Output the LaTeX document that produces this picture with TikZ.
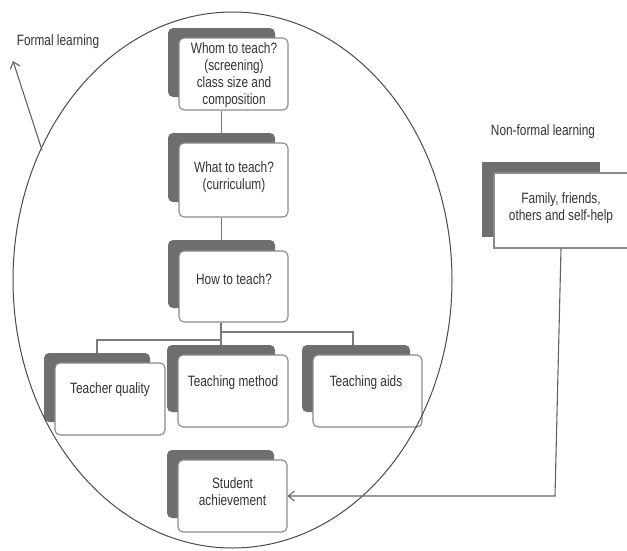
\documentclass[tikz,border=0pt]{standalone}
\usepackage{fontspec}
\setmainfont{Liberation Sans}[FakeStretch=0.79]
\usetikzlibrary{arrows.meta,shapes.geometric}
\definecolor{shade}{HTML}{6E6E6E}
\definecolor{edge}{HTML}{8A8A8A}
\definecolor{conn}{HTML}{7A7A7A}
\definecolor{ink}{HTML}{333333}
\definecolor{ring}{HTML}{4A4A4A}
\begin{document}
\begin{tikzpicture}[x=1pt,y=-1pt,
  sbox/.style={fill=shade, draw=none, rounded corners=5pt, inner sep=0pt, minimum width=107pt, minimum height=69pt},
  wbox/.style={fill=white, draw=edge, line width=1.1pt, rounded corners=5pt, inner sep=0pt, minimum width=109pt, minimum height=72pt},
  txt/.style={text=ink, font=\fontsize{15}{17}\selectfont, align=center, inner sep=0pt},
  link/.style={draw=conn, line width=1.1pt}]
\useasboundingbox (0,0) rectangle (627,550);

% Whom to teach
\node[sbox] (b1s) at (221.5,62.5) {};
\node[wbox] (b1) at (233.5,74) {};
\node[txt] (b1t) at (234,75) {Whom to teach?\\(screening)\\class size and\\composition};
% What to teach
\node[sbox] (b2s) at (221.5,167.5) {};
\node[wbox, minimum height=74pt] (b2) at (233.5,180) {};
\node[txt] (b2t) at (234,177) {What to teach?\\(curriculum)};
% How to teach
\node[sbox, minimum height=68pt] (b3s) at (221.5,274) {};
\node[wbox, minimum height=71pt] (b3) at (233.5,286.5) {};
\node[txt] (b3t) at (234,279) {How to teach?};
% Teacher quality
\node[sbox, minimum width=106pt] (tqs) at (97,387.5) {};
\node[wbox, minimum width=110pt] (tq) at (110,399) {};
\node[txt] (tqt) at (110,390) {Teacher quality};
% Teaching method
\node[sbox, minimum width=108pt, minimum height=67pt] (tms) at (221,378.5) {};
\node[wbox, minimum width=110pt] (tm) at (233,391) {};
\node[txt] (tmt) at (233,383) {Teaching method};
% Teaching aids
\node[sbox, minimum width=108pt, minimum height=67pt] (tas) at (356,378.5) {};
\node[wbox] (ta) at (367.5,391) {};
\node[txt] (tat) at (366,383) {Teaching aids};
% Student achievement
\node[sbox, minimum height=68pt] (sas) at (220.5,484) {};
\node[wbox] (sa) at (232.5,496) {};
\node[txt] (sat) at (232.5,492) {Student\\achievement};
% Family
\node[sbox, rounded corners=0pt, minimum width=118pt, minimum height=75pt] (fas) at (541,199.5) {};
\node[wbox, rounded corners=0pt, minimum width=134pt, minimum height=75pt] (fa) at (561,210.5) {};
\node[txt] (fat) at (561,208) {Family, friends,\\others and self-help};

% connectors
\draw[link] (b2s.north |- b1.south) -- (b2s.north);
\draw[link] (b3s.north |- b2.south) -- (b3s.north);
\draw[link] (tms.north |- b3.south) -- (tms.north);
\coordinate (rj) at (221,332);
\coordinate (lj) at (221,340);
\draw[link] (rj) -- (353,332) -- (353,345);
\draw[link] (lj) -- (97,340) -- (tqs.north -| 97,0);

% ellipse
\node[draw=ring, line width=1pt, ellipse, inner sep=0pt, minimum width=439pt, minimum height=536pt] (el) at (232.5,280) {};

% labels
\node[txt] (fl) at (58,42) {Formal learning};
\node[txt] (nfl) at (543,132) {Non-formal learning};

% formal learning arrow
\coordinate (fa1) at (42,150);
\coordinate (fa2) at (13,61);
\draw[link, draw=conn!80!black, -{Straight Barb[length=6pt,width=10pt,line width=1.1pt]}] (fa1) -- (fa2);

% non-formal arrow
\coordinate (bend) at (555,496);
\draw[link, draw=conn!80!black, -{Straight Barb[length=6pt,width=10pt,line width=1.1pt]}] (fa.south) -- (bend) -- (sa.east);
\end{tikzpicture}
\end{document}
